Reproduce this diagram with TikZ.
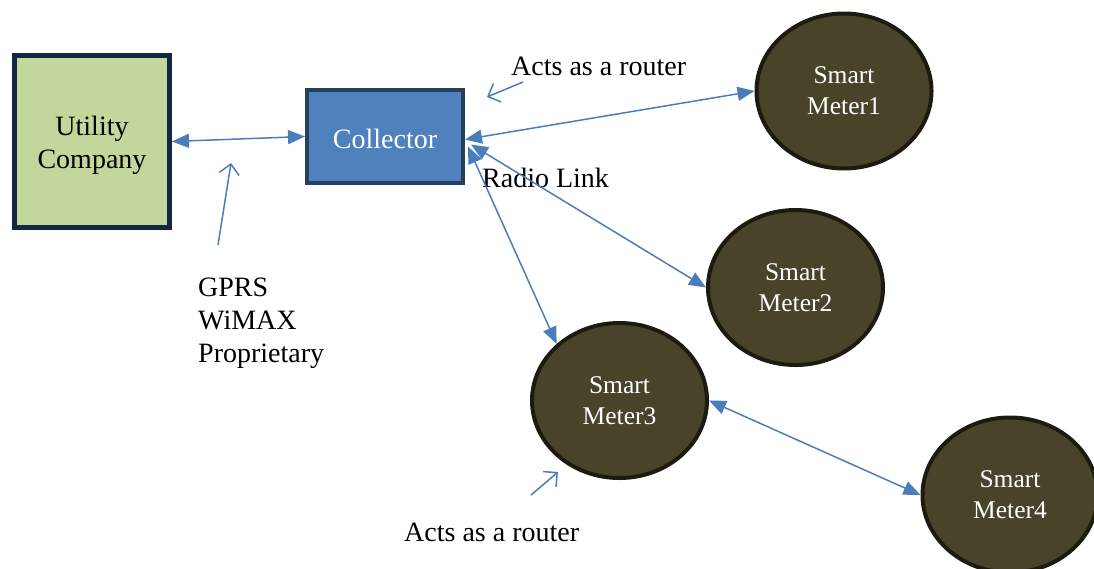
\documentclass[tikz,border=0pt]{standalone}
\usepackage{fontspec}
\setmainfont{Liberation Serif}
\usetikzlibrary{arrows.meta,shapes.geometric}
\definecolor{utilfill}{HTML}{C3D69B}
\definecolor{utildraw}{HTML}{142641}
\definecolor{collfill}{HTML}{4F81BD}
\definecolor{colldraw}{HTML}{243F60}
\definecolor{meterfill}{HTML}{494429}
\definecolor{meterdraw}{HTML}{1D1B10}
\definecolor{linkblue}{HTML}{4A7EBB}
\tikzset{
  utilbox/.style={rectangle, draw=utildraw, fill=utilfill, line width=5pt,
    minimum width=155pt, minimum height=172pt, inner sep=0pt},
  collbox/.style={rectangle, draw=colldraw, fill=collfill, line width=4pt,
    minimum width=156pt, minimum height=93pt, inner sep=0pt},
  boxtext/.style={inner sep=0pt, align=center, font=\fontsize{28}{33}\selectfont},
  meter/.style={ellipse, draw=meterdraw, fill=meterfill, line width=4pt,
    minimum width=175pt, minimum height=155pt, align=center, inner sep=0pt,
    text=white, font=\fontsize{25.5}{31}\selectfont},
  lbl/.style={inner sep=0pt, font=\fontsize{28}{33}\selectfont},
  link/.style={draw=linkblue, line width=1.5pt,
    {Triangle[length=17pt,width=14pt]}-{Triangle[length=17pt,width=14pt]}},
  note/.style={draw=linkblue, line width=1.5pt,
    -{Straight Barb[length=10pt,width=20pt,line width=1.5pt]}}
}
\begin{document}
\begin{tikzpicture}[x=1pt,y=-1pt]
\useasboundingbox (0,0) rectangle (1094,568);
\node[utilbox, label={[boxtext, yshift=-3.5pt]center:Utility\\Company}] (util) at (92,141.5) {};
\node[collbox, label={[boxtext, text=white, yshift=-2pt]center:Collector}] (coll) at (385,136.5) {};
\node[meter] (m1) at (844,91) {Smart\\Meter1};
\node[meter] (m2) at (795.5,287.5) {Smart\\Meter2};
\node[meter] (m3) at (619.5,400.5) {Smart\\Meter3};
\node[meter] (m4) at (1010,495) {Smart\\Meter4};
\node[lbl, anchor=west] (router1) at (511,66) {Acts as a router};
\node[lbl, anchor=west] (radio) at (482,178) {Radio Link};
\node[lbl, anchor=west, align=left] (gprs) at (198,323) {GPRS\\WiMAX\\Proprietary};
\node[lbl, anchor=west] (router2) at (404,532) {Acts as a router};
\coordinate (cport) at ([yshift=-3pt]coll.east);
\coordinate (cport2) at ([xshift=6pt,yshift=-8pt]coll.east);
\coordinate (cport3) at ([xshift=3pt,yshift=-10pt]coll.east);
\draw[link] (util.east) -- (coll.west);
\draw[link] (cport) -- (m1.west);
\draw[link] (cport2) -- (m2.west);
\draw[link] (cport3) -- (m3.138);
\draw[link] (m3.east) -- (m4.west);
\coordinate (g1) at (218,245);
\coordinate (g2) at (231,163);
\coordinate (r1a) at (523,82);
\coordinate (r1b) at (487,97);
\coordinate (r2a) at (531,495);
\coordinate (r2b) at (558,472);
\draw[note] (g1) -- (g2);
\draw[note] (r1a) -- (r1b);
\draw[note] (r2a) -- (r2b);
\end{tikzpicture}
\end{document}
